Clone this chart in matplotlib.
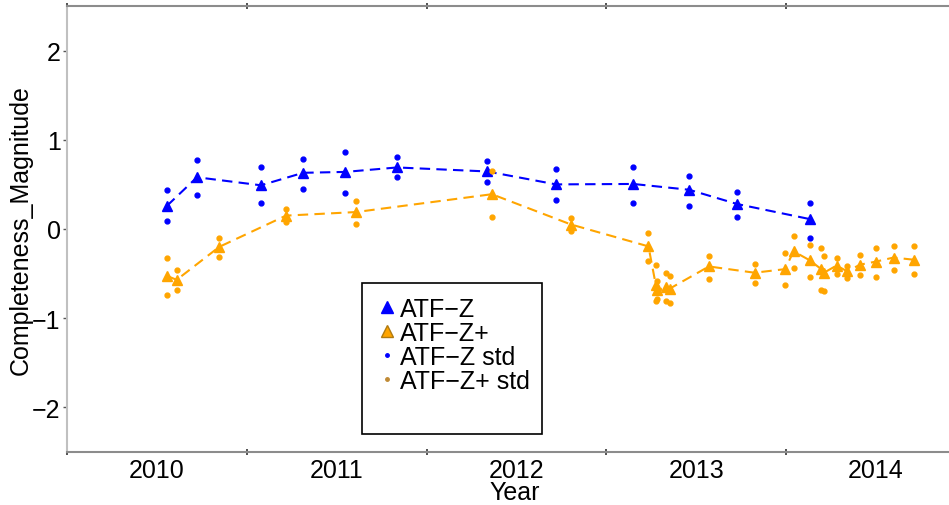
import matplotlib
matplotlib.use("Agg")
import matplotlib.pyplot as plt
from matplotlib.lines import Line2D
from matplotlib.patches import Rectangle

plt.rcParams['font.family'] = ['Liberation Sans', 'DejaVu Sans']

# ATF-Z completeness magnitude: epoch (decimal year), mean and +/- std bounds
atfz_year = [2010.056, 2010.223, 2010.579, 2010.813, 2011.047, 2011.336,
             2011.837, 2012.220, 2012.649, 2012.960, 2013.227, 2013.634]
atfz_mag = [0.26, 0.58, 0.49, 0.63, 0.64, 0.69, 0.645, 0.50, 0.505, 0.44, 0.28, 0.11]
atfz_hi = [0.44, 0.775, 0.69, 0.79, 0.86, 0.81, 0.76, 0.67, 0.69, 0.59, 0.42, 0.29]
atfz_lo = [0.09, 0.38, 0.29, 0.45, 0.40, 0.58, 0.53, 0.32, 0.29, 0.26, 0.13, -0.10]

# ATF-Z+ completeness magnitude
atfzp_year = [2010.055, 2010.110, 2010.347, 2010.718, 2011.108, 2011.863,
              2012.304, 2012.734, 2012.775, 2012.780, 2012.832, 2012.851,
              2013.070, 2013.324, 2013.494, 2013.541, 2013.630, 2013.695,
              2013.710, 2013.780, 2013.840, 2013.910, 2014.000, 2014.097, 2014.212]
atfzp_mag = [-0.525, -0.57, -0.20, 0.15, 0.19, 0.39,
             0.05, -0.195, -0.63, -0.685, -0.655, -0.67,
             -0.42, -0.49, -0.45, -0.25, -0.35, -0.45,
             -0.49, -0.41, -0.475, -0.40, -0.365, -0.32, -0.345]
atfzp_hi = [-0.32, -0.46, -0.105, 0.22, 0.31, 0.645,
            0.12, -0.04, -0.40, -0.58, -0.495, -0.53,
            -0.30, -0.39, -0.27, -0.08, -0.175, -0.21,
            -0.30, -0.33, -0.41, -0.29, -0.21, -0.185, -0.185]
atfzp_lo = [-0.74, -0.685, -0.31, 0.075, 0.056, 0.13,
            -0.02, -0.36, -0.81, -0.79, -0.81, -0.83,
            -0.555, -0.61, -0.625, -0.44, -0.535, -0.68,
            -0.69, -0.505, -0.55, -0.52, -0.54, -0.455, -0.51]

year_labels = [2010, 2011, 2012, 2013, 2014]
year_edges = [2009.5, 2010.5, 2011.5, 2012.5, 2013.5, 2014.5]
mag_ticks = [-2, -1, 0, 1, 2]

BLUE = '#0000ff'
ORANGE = '#ffa500'
FS = 18

W, H = 949, 506
fig = plt.figure(figsize=(W / 100, H / 100), dpi=100)
# axes run past the right edge of the canvas (no right frame visible)
ax = fig.add_axes([67 / W, (H - 453) / H, 899 / W, 446 / H])

dash = (0, (5, 3))
ax.plot(atfz_year, atfz_mag, linestyle=dash, color=BLUE, lw=1.5,
        marker='^', markersize=7.5, zorder=3)
ax.plot(atfz_year, atfz_hi, linestyle='none', marker='o', color=BLUE,
        markersize=3.5, zorder=3)
ax.plot(atfz_year, atfz_lo, linestyle='none', marker='o', color=BLUE,
        markersize=3.5, zorder=3)
ax.plot(atfzp_year, atfzp_mag, linestyle=dash, color=ORANGE, lw=1.5,
        marker='^', markersize=7.5, zorder=4)
ax.plot(atfzp_year, atfzp_hi, linestyle='none', marker='o', color=ORANGE,
        markersize=3.5, zorder=4)
ax.plot(atfzp_year, atfzp_lo, linestyle='none', marker='o', color=ORANGE,
        markersize=3.5, zorder=4)

ax.set_xlim(2009.5, 2014.5)
ax.set_ylim(-2.5, 2.5)

# year boundaries get tick marks, year names sit between them
ax.set_xticks(year_edges)
ax.set_xticklabels([''] * len(year_edges))
ax.set_xticks(year_labels, minor=True)
ax.set_xticklabels([str(y) for y in year_labels], minor=True)
ax.tick_params(axis='x', which='major', direction='inout', length=5,
               width=1.2, color='#333333', top=True)
ax.tick_params(axis='x', which='minor', length=0, pad=4, labelsize=FS)

ax.set_yticks(mag_ticks)
ax.set_yticklabels([f'{v}'.replace('-', '\u2212') for v in mag_ticks])
ax.tick_params(axis='y', which='major', direction='out', length=3,
               width=1, color='#555555', pad=1.5, labelsize=FS)

ax.spines['right'].set_visible(False)
ax.spines['left'].set_color('#c0c0c0')
ax.spines['left'].set_linewidth(1.5)
for s in ('top', 'bottom'):
    ax.spines[s].set_color('#8c8c8c')
    ax.spines[s].set_linewidth(1.5)

ax.set_xlabel('Year', fontsize=FS)
ax.xaxis.set_label_coords(0.498, -0.062)
ax.set_ylabel('Completeness_Magnitude', fontsize=FS)
ax.yaxis.set_label_coords(-0.0385, 0.5)

# legend box with its own frame
ax.add_patch(Rectangle((0.328, 0.040), 0.200, 0.3385, transform=ax.transAxes,
                       fill=False, edgecolor='black', lw=1.2, zorder=5))
handles = [
    Line2D([], [], linestyle='none', marker='^', color=BLUE, markersize=9),
    Line2D([], [], linestyle='none', marker='^', color=ORANGE,
           markeredgecolor='#b07a10', markersize=9),
    Line2D([], [], linestyle='none', marker='o', color=BLUE, markersize=2.5),
    Line2D([], [], linestyle='none', marker='o', color='#c08a35', markersize=2.5),
]
labels = ['ATF\u2212Z', 'ATF\u2212Z+', 'ATF\u2212Z std', 'ATF\u2212Z+ std']
ax.legend(handles, labels, loc='upper left', bbox_to_anchor=(0.349, 0.348),
          frameon=False, fontsize=FS, handlelength=0.5, handletextpad=0.25,
          labelspacing=0.0, borderpad=0.0, borderaxespad=0)

fig.savefig('out.png', dpi=100)
